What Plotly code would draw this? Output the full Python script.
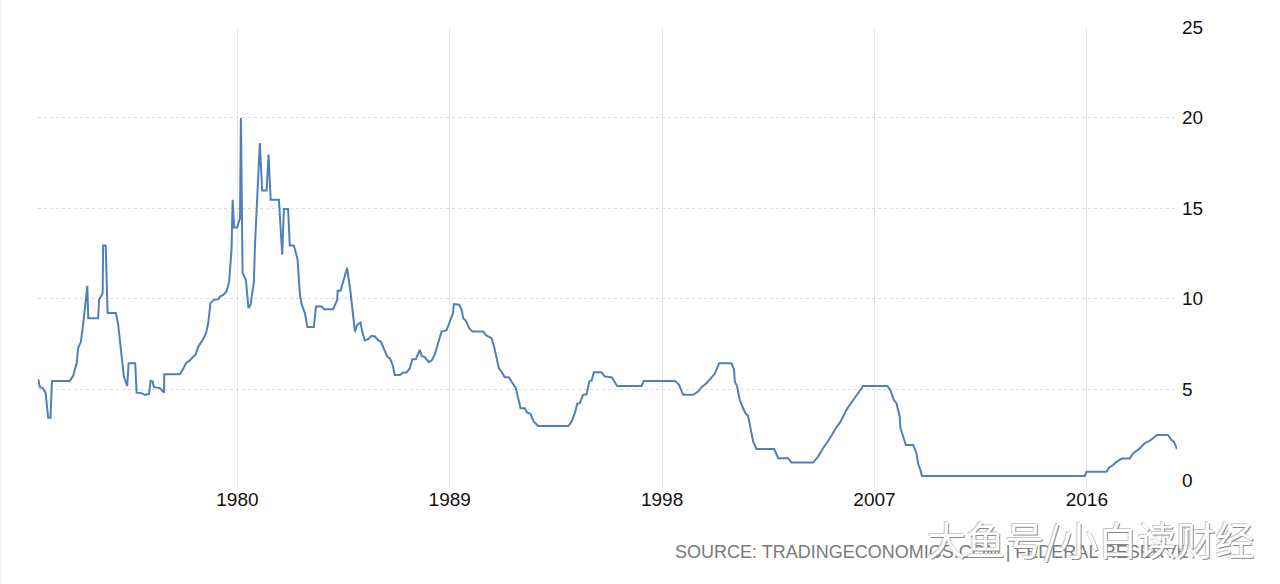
import plotly.graph_objects as go

# Effective federal funds rate (%) (decimal years)
years = [
    1971.56, 1971.63, 1971.75, 1971.87, 1971.98, 1972.08, 1972.14, 1972.90, 1973.04, 1973.19,
    1973.25, 1973.37, 1973.47, 1973.64, 1973.68, 1974.10, 1974.14, 1974.29, 1974.31, 1974.42,
    1974.50, 1974.85, 1974.95, 1975.05, 1975.19, 1975.33, 1975.39, 1975.67, 1975.73, 1975.94,
    1976.08, 1976.26, 1976.32, 1976.41, 1976.46, 1976.72, 1976.89, 1976.90, 1977.56, 1977.70,
    1977.82, 1977.96, 1978.08, 1978.24, 1978.34, 1978.53, 1978.67, 1978.76, 1978.86, 1979.00,
    1979.19, 1979.26, 1979.40, 1979.54, 1979.65, 1979.75, 1979.80, 1979.86, 1979.99, 1980.11,
    1980.15, 1980.22, 1980.36, 1980.47, 1980.56, 1980.70, 1980.74, 1980.95, 1981.05, 1981.24,
    1981.32, 1981.41, 1981.76, 1981.90, 1981.97, 1982.15, 1982.22, 1982.39, 1982.55, 1982.65,
    1982.72, 1982.86, 1982.97, 1983.24, 1983.33, 1983.57, 1983.68, 1984.06, 1984.23, 1984.25,
    1984.37, 1984.48, 1984.65, 1984.80, 1984.98, 1985.08, 1985.22, 1985.29, 1985.40, 1985.54,
    1985.69, 1985.83, 1985.97, 1986.08, 1986.21, 1986.35, 1986.46, 1986.58, 1986.67, 1986.89,
    1987.03, 1987.17, 1987.31, 1987.41, 1987.56, 1987.73, 1987.81, 1987.94, 1988.11, 1988.23,
    1988.37, 1988.51, 1988.65, 1988.86, 1989.00, 1989.14, 1989.17, 1989.40, 1989.50, 1989.57,
    1989.68, 1989.82, 1989.97, 1990.42, 1990.56, 1990.77, 1990.88, 1990.98, 1991.08, 1991.19,
    1991.33, 1991.50, 1991.62, 1991.80, 1991.90, 1992.00, 1992.18, 1992.28, 1992.42, 1992.56,
    1992.75, 1994.02, 1994.16, 1994.30, 1994.40, 1994.51, 1994.65, 1994.80, 1994.91, 1995.01,
    1995.11, 1995.43, 1995.57, 1995.86, 1995.95, 1996.09, 1997.13, 1997.22, 1998.54, 1998.72,
    1998.89, 1999.31, 1999.53, 1999.67, 1999.88, 2000.09, 2000.23, 2000.42, 2000.94, 2001.05,
    2001.08, 2001.18, 2001.29, 2001.43, 2001.55, 2001.64, 2001.75, 2001.86, 2002.00, 2002.75,
    2002.92, 2003.34, 2003.48, 2004.40, 2004.61, 2004.82, 2005.11, 2005.36, 2005.56, 2005.81,
    2005.95, 2006.12, 2006.31, 2006.52, 2007.55, 2007.68, 2007.82, 2007.93, 2008.07, 2008.10,
    2008.33, 2008.64, 2008.78, 2008.85, 2008.95, 2009.01, 2015.91, 2015.98, 2016.83, 2016.94,
    2017.11, 2017.22, 2017.47, 2017.82, 2017.96, 2018.21, 2018.31, 2018.45, 2018.67, 2018.81,
    2018.97, 2019.44, 2019.58, 2019.69, 2019.82,
]
rates = [
    5.56, 5.12, 5.07, 4.82, 3.44, 3.44, 5.47, 5.47, 5.75, 6.45,
    7.28, 7.64, 8.66, 10.72, 8.93, 8.93, 9.94, 10.31, 12.94, 12.94,
    9.21, 9.21, 8.56, 7.36, 5.71, 5.19, 6.45, 6.45, 4.82, 4.79,
    4.70, 4.75, 5.47, 5.43, 5.12, 5.07, 4.82, 5.84, 5.84, 6.12,
    6.45, 6.57, 6.76, 6.96, 7.36, 7.73, 8.10, 8.62, 9.76, 9.94,
    9.98, 10.13, 10.22, 10.40, 10.96, 12.71, 15.47, 13.94, 13.94, 14.46,
    19.98, 11.42, 11.05, 9.49, 9.67, 10.96, 12.80, 18.60, 15.97, 15.97,
    17.96, 15.47, 15.47, 12.43, 14.96, 14.96, 12.94, 12.94, 12.19, 10.22,
    9.72, 9.21, 8.44, 8.44, 9.57, 9.57, 9.43, 9.43, 9.94, 10.44,
    10.44, 10.96, 11.70, 10.31, 8.19, 8.56, 8.69, 8.19, 7.70, 7.77,
    7.96, 7.92, 7.70, 7.64, 7.28, 6.81, 6.72, 6.35, 5.80, 5.80,
    5.93, 5.93, 6.17, 6.67, 6.67, 7.18, 6.85, 6.78, 6.50, 6.59,
    6.94, 7.51, 8.19, 8.25, 8.75, 9.21, 9.71, 9.67, 9.39, 8.93,
    8.80, 8.38, 8.19, 8.19, 7.96, 7.83, 7.36, 6.81, 6.17, 5.98,
    5.67, 5.67, 5.43, 5.07, 4.51, 3.96, 3.96, 3.72, 3.65, 3.22,
    2.98, 2.98, 3.22, 3.69, 4.20, 4.24, 4.70, 4.73, 5.43, 5.49,
    5.95, 5.95, 5.71, 5.67, 5.49, 5.19, 5.19, 5.47, 5.47, 5.25,
    4.70, 4.70, 4.88, 5.12, 5.34, 5.62, 5.86, 6.45, 6.45, 6.08,
    5.43, 5.15, 4.42, 3.96, 3.65, 3.54, 2.76, 2.12, 1.71, 1.71,
    1.20, 1.20, 0.96, 0.96, 1.29, 1.75, 2.30, 2.86, 3.22, 3.87,
    4.14, 4.46, 4.79, 5.19, 5.19, 4.93, 4.42, 4.24, 3.50, 2.86,
    1.93, 1.93, 1.48, 0.88, 0.55, 0.22, 0.22, 0.46, 0.46, 0.68,
    0.83, 0.96, 1.18, 1.18, 1.48, 1.70, 1.84, 2.03, 2.17, 2.30,
    2.49, 2.49, 2.21, 2.12, 1.70,
]

x_ticks = [1980, 1989, 1998, 2007, 2016]
x_tick_text = ["1980", "1989", "1998", "2007", "2016"]
y_ticks = [0, 5, 10, 15, 20, 25]

source_text = "SOURCE: TRADINGECONOMICS.COM | FEDERAL RESERVE"
watermark_text = "大鱼号/小白读财经"

fig = go.Figure()
fig.add_trace(go.Scatter(
    x=years, y=rates, mode="lines",
    line=dict(color="#4f7fbd", width=2),
    showlegend=False, hoverinfo="skip",
))

fig.update_layout(
    width=1280, height=584,
    margin=dict(l=38, r=103, t=27, b=104),
    paper_bgcolor="white", plot_bgcolor="white",
    font=dict(family="Liberation Sans, Arial, sans-serif", color="#111111"),
    xaxis=dict(
        range=[1971.55, 2019.82],
        tickvals=x_ticks, ticktext=x_tick_text,
        showgrid=True, gridcolor="#e6e6e6", gridwidth=1,
        ticks="outside", ticklen=6, tickcolor="#e6e6e6",
        ticklabelstandoff=-4,
        tickfont=dict(size=19, color="#111111"),
        zeroline=False, showline=False, fixedrange=True,
    ),
    yaxis=dict(
        range=[0, 25], side="right",
        tickvals=y_ticks,
        showgrid=True, gridcolor="#dcdcdc", gridwidth=1, griddash="dot",
        ticks="", ticklabelstandoff=4,
        tickfont=dict(size=19, color="#111111"),
        zeroline=False, showline=False, fixedrange=True,
    ),
    shapes=[
        dict(type="line", xref="paper", yref="paper",
             x0=-38 / 1139, x1=-38 / 1139, y0=-104 / 453, y1=1 + 27 / 453,
             line=dict(color="#e8e8e8", width=1)),
    ],
    annotations=[
        dict(
            text=source_text, xref="paper", yref="paper",
            x=(1190 - 38) / 1139, y=(480 - 552) / 453,
            xanchor="right", yanchor="middle", showarrow=False,
            font=dict(size=18, color="#7a7a7a", family="Liberation Sans, Arial, sans-serif"),
        ),
        dict(
            text=watermark_text, xref="paper", yref="paper",
            x=(1090 - 38) / 1139, y=(480 - 538) / 453,
            xanchor="center", yanchor="middle", showarrow=False,
            font=dict(size=39, color="#ffffff", family="Noto Sans CJK SC",
                      shadow="1px 1px 0px #8a8a8a, -1px -1px 0px #c8c8c8"),
        ),
    ],
)

fig.write_html("out.html")
